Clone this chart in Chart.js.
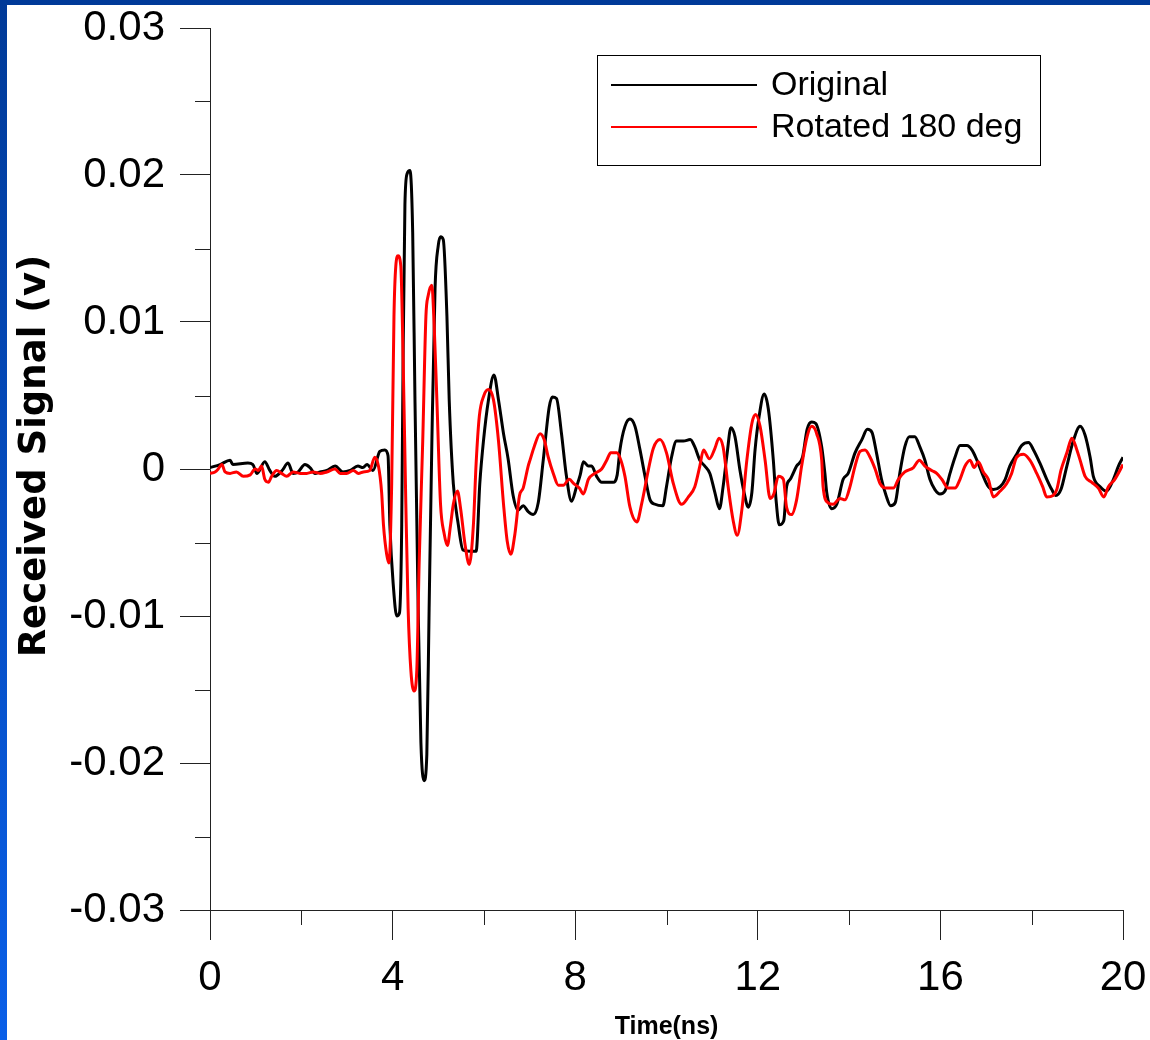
<!DOCTYPE html>
<html>
<head>
<meta charset="utf-8">
<script src="https://cdn.jsdelivr.net/npm/chart.js@4/dist/chart.umd.min.js"></script>
<style>
  html, body { margin: 0; padding: 0; }
  body { width: 1150px; height: 1040px; position: relative; overflow: hidden;
         background: linear-gradient(180deg, #003a98 0%, #0a5fe8 100%); }
  #wrap { position: absolute; left: 7px; top: 5px; width: 1143px; height: 1035px; background: #fff; }
</style>
</head>
<body>
<div id="wrap"><canvas id="signalChart" width="1143" height="1035"></canvas></div>
<script>
// time (ns) / received signal (V)
const timeOriginal = [0,0.22,0.44,0.50,0.83,0.94,1.03,1.20,1.31,1.42,
  1.58,1.71,1.82,1.93,2.08,2.19,2.30,2.41,2.56,2.74,
  2.91,3.07,3.24,3.35,3.44,3.57,3.72,3.83,3.90,3.94,
  4.02,4.09,4.15,4.20,4.23,4.27,4.32,4.38,4.44,4.49,
  4.56,4.62,4.69,4.75,4.80,4.86,4.93,5.00,5.05,5.11,
  5.19,5.24,5.33,5.44,5.54,5.70,5.83,5.91,5.99,6.10,
  6.22,6.32,6.43,6.53,6.64,6.75,6.86,6.97,7.08,7.19,
  7.30,7.43,7.50,7.59,7.70,7.80,7.92,8.03,8.11,8.18,
  8.29,8.36,8.47,8.58,8.73,8.83,8.92,8.98,9.09,9.20,
  9.31,9.42,9.53,9.64,9.75,9.92,10.00,10.11,10.22,10.37,
  10.52,10.62,10.73,10.84,10.95,11.06,11.16,11.24,11.33,11.41,
  11.50,11.61,11.70,11.79,11.87,11.94,12.03,12.14,12.23,12.34,
  12.40,12.47,12.57,12.63,12.71,12.85,12.98,13.08,13.18,13.27,
  13.40,13.47,13.51,13.62,13.73,13.87,13.98,14.13,14.28,14.40,
  14.50,14.60,14.71,14.81,14.91,15.01,15.11,15.22,15.32,15.44,
  15.55,15.66,15.77,15.88,15.99,16.10,16.21,16.32,16.43,16.58,
  16.69,16.80,16.94,17.05,17.16,17.31,17.42,17.52,17.67,17.78,
  17.93,18.04,18.18,18.33,18.44,18.53,18.64,18.77,18.91,19.06,
  19.17,19.28,19.35,19.50,19.64,19.79,19.90,20.00];
const original = [0.0001,0.0003,0.0006,0.0003,0.0004,0.0003,-0.0003,0.0005,-0.0001,-0.0005,
  -0.0001,0.0004,-0.0003,-0.0002,0.0003,0.0001,-0.0003,-0.0002,-0.0001,0.0002,
  -0.0002,-0.0001,0.0002,0.0001,0.0003,-0.0001,0.0012,0.0013,0.0009,-0.0038,
  -0.0081,-0.0100,-0.0098,-0.0038,0.0076,0.0180,0.0201,0.0203,0.0161,0.0047,
  -0.0095,-0.0186,-0.0212,-0.0194,-0.0095,0.0018,0.0123,0.0152,0.0158,0.0156,
  0.0104,0.0047,-0.0010,-0.0038,-0.0055,-0.0056,-0.0056,-0.0010,0.0019,0.0047,
  0.0064,0.0047,0.0024,0.0007,-0.0018,-0.0028,-0.0025,-0.0029,-0.0031,-0.0023,
  0.0006,0.0042,0.0049,0.0048,0.0024,-0.0003,-0.0022,-0.0012,-0.0004,0.0005,
  0.0002,0.0002,-0.0005,-0.0009,-0.0009,-0.0009,-0.0004,0.0013,0.0029,0.0034,
  0.0029,0.0013,-0.0005,-0.0021,-0.0024,-0.0025,-0.0012,0.0008,0.0019,0.0019,
  0.0020,0.0015,0.0006,0.0002,-0.0003,-0.0016,-0.0027,-0.0012,0.0011,0.0028,
  0.0022,-0.0001,-0.0016,-0.0026,-0.0016,0.0013,0.0036,0.0051,0.0041,0.0006,
  -0.0021,-0.0038,-0.0035,-0.0012,-0.0007,0.0002,0.0008,0.0027,0.0032,0.0031,
  0.0015,-0.0003,-0.0016,-0.0027,-0.0024,-0.0007,-0.0003,0.0011,0.0020,0.0027,
  0.0025,0.0011,-0.0007,-0.0018,-0.0025,-0.0023,-0.0003,0.0015,0.0022,0.0022,
  0.0015,0.0006,-0.0007,-0.0014,-0.0017,-0.0015,-0.0003,0.0008,0.0016,0.0016,
  0.0013,0.0006,-0.0005,-0.0012,-0.0014,-0.0012,-0.0007,0.0002,0.0010,0.0016,
  0.0018,0.0013,0.0004,-0.0007,-0.0014,-0.0018,-0.0014,0.0002,0.0019,0.0029,
  0.0023,0.0008,-0.0005,-0.0012,-0.0015,-0.0007,0.0002,0.0008];

const timeRotated = [0,0.11,0.18,0.26,0.33,0.44,0.58,0.73,0.88,0.99,
  1.06,1.13,1.20,1.28,1.35,1.46,1.57,1.68,1.82,1.97,
  2.12,2.26,2.41,2.56,2.74,2.85,2.99,3.14,3.25,3.36,
  3.50,3.61,3.69,3.76,3.80,3.87,3.92,3.98,4.03,4.07,
  4.12,4.18,4.23,4.29,4.34,4.40,4.47,4.53,4.58,4.66,
  4.73,4.78,4.86,4.91,4.97,5.05,5.13,5.20,5.27,5.33,
  5.42,5.49,5.59,5.68,5.77,5.83,5.90,6.00,6.10,6.21,
  6.32,6.43,6.51,6.59,6.68,6.78,6.86,6.97,7.01,7.10,
  7.23,7.32,7.41,7.52,7.63,7.74,7.87,7.97,8.09,8.18,
  8.29,8.43,8.58,8.69,8.78,8.91,9.00,9.09,9.20,9.35,
  9.46,9.60,9.71,9.86,10.00,10.15,10.33,10.48,10.62,10.73,
  10.81,10.94,11.06,11.15,11.24,11.35,11.46,11.55,11.65,11.76,
  11.87,11.95,12.05,12.16,12.27,12.35,12.45,12.56,12.63,12.74,
  12.85,12.96,13.08,13.18,13.29,13.40,13.43,13.54,13.65,13.80,
  13.91,14.02,14.13,14.24,14.35,14.46,14.57,14.68,14.82,14.97,
  15.08,15.22,15.41,15.54,15.66,15.81,15.92,16.03,16.17,16.32,
  16.43,16.54,16.65,16.74,16.83,16.94,17.05,17.16,17.31,17.45,
  17.56,17.67,17.82,17.96,18.11,18.24,18.33,18.47,18.55,18.64,
  18.77,18.88,18.99,19.06,19.17,19.31,19.46,19.58,19.68,19.82,
  20.00];
const rotated = [-0.0003,-0.0002,0.0000,0.0003,-0.0002,-0.0003,-0.0002,-0.0005,-0.0004,0.0000,
  -0.0001,0.0002,-0.0007,-0.0009,-0.0005,-0.0001,-0.0003,-0.0005,-0.0002,-0.0003,
  -0.0003,-0.0002,-0.0003,-0.0002,0.0000,-0.0003,-0.0003,-0.0001,-0.0003,-0.0002,
  -0.0001,0.0008,0.0002,-0.0016,-0.0038,-0.0058,-0.0064,-0.0010,0.0104,0.0138,
  0.0145,0.0138,0.0076,-0.0024,-0.0095,-0.0137,-0.0151,-0.0137,-0.0066,0.0019,
  0.0104,0.0118,0.0125,0.0098,0.0047,-0.0024,-0.0044,-0.0052,-0.0038,-0.0024,
  -0.0015,-0.0027,-0.0052,-0.0065,-0.0038,0.0004,0.0036,0.0050,0.0054,0.0047,
  0.0019,-0.0024,-0.0049,-0.0058,-0.0044,-0.0018,-0.0013,0.0002,0.0006,0.0015,
  0.0024,0.0020,0.0008,-0.0003,-0.0011,-0.0011,-0.0007,-0.0010,-0.0013,-0.0017,
  -0.0007,-0.0003,0.0000,0.0006,0.0011,0.0011,0.0006,-0.0005,-0.0026,-0.0036,
  -0.0023,-0.0001,0.0014,0.0020,0.0011,-0.0010,-0.0024,-0.0019,-0.0012,0.0002,
  0.0013,0.0007,0.0014,0.0021,0.0015,-0.0012,-0.0035,-0.0045,-0.0028,0.0006,
  0.0031,0.0037,0.0029,0.0006,-0.0020,-0.0017,-0.0005,-0.0007,-0.0026,-0.0031,
  -0.0021,0.0002,0.0022,0.0029,0.0024,0.0006,-0.0012,-0.0023,-0.0024,-0.0020,
  -0.0021,-0.0012,0.0002,0.0012,0.0013,0.0008,0.0000,-0.0010,-0.0013,-0.0013,
  -0.0007,-0.0002,0.0001,0.0006,0.0002,-0.0001,-0.0003,-0.0007,-0.0013,-0.0013,
  -0.0007,0.0002,0.0006,0.0001,0.0005,-0.0002,-0.0007,-0.0019,-0.0015,-0.0010,
  -0.0003,0.0008,0.0010,0.0006,-0.0003,-0.0012,-0.0019,-0.0018,-0.0014,-0.0001,
  0.0011,0.0021,0.0013,0.0006,-0.0005,-0.0009,-0.0013,-0.0019,-0.0012,-0.0007,
  0.0003];

const xMajor = 4, xMinor = [2, 6, 10, 14, 18];
const yMajor = 0.01, yMinor = [-0.025, -0.015, -0.005, 0.005, 0.015, 0.025];

function pts(ts, vs) {
    return ts.map((t, i) => ({ x: t, y: vs[i] }));
}

// minor ticks (half length) on both axes
const minorTicks = {
    id: 'minorTicks',
    afterDraw(chart) {
        const ctx = chart.ctx, xs = chart.scales.x, ys = chart.scales.y;
        ctx.save();
        ctx.strokeStyle = '#222';
        ctx.lineWidth = 1;
        ctx.beginPath();
        xMinor.forEach(v => {
            const px = Math.round(xs.getPixelForValue(v)) + 0.5;
            ctx.moveTo(px, ys.bottom);
            ctx.lineTo(px, ys.bottom + 15);
        });
        yMinor.forEach(v => {
            const py = Math.round(ys.getPixelForValue(v)) + 0.5;
            ctx.moveTo(xs.left - 15, py);
            ctx.lineTo(xs.left, py);
        });
        ctx.stroke();
        ctx.restore();
    }
};

// boxed legend inside the plot, top right
const boxLegend = {
    id: 'boxLegend',
    afterDraw(chart) {
        const ctx = chart.ctx, a = chart.chartArea;
        const bx = a.right - 526, by = a.top + 27, bw = 443, bh = 110;
        ctx.save();
        ctx.strokeStyle = '#000';
        ctx.lineWidth = 1;
        ctx.strokeRect(bx + 0.5, by + 0.5, bw, bh);
        ctx.font = '34px "Liberation Sans", Arial, sans-serif';
        ctx.textBaseline = 'middle';
        ctx.fillStyle = '#000';
        chart.data.datasets.forEach((ds, i) => {
            const y = by + 30 + i * 42;
            ctx.strokeStyle = ds.borderColor;
            ctx.lineWidth = 2;
            ctx.beginPath();
            ctx.moveTo(bx + 14, y);
            ctx.lineTo(bx + 160, y);
            ctx.stroke();
            ctx.fillText(ds.label, bx + 174, y + 1);
        });
        ctx.restore();
    }
};

const ctx = document.getElementById('signalChart').getContext('2d');
new Chart(ctx, {
    type: 'line',
    data: {
        datasets: [{
            label: 'Original',
            data: pts(timeOriginal, original),
            borderColor: '#000000',
            borderWidth: 3,
            pointRadius: 0,
            cubicInterpolationMode: 'monotone',
            order: 1
        }, {
            label: 'Rotated 180 deg',
            data: pts(timeRotated, rotated),
            borderColor: '#ff0000',
            borderWidth: 3,
            pointRadius: 0,
            cubicInterpolationMode: 'monotone',
            order: 0
        }]
    },
    options: {
        responsive: false,
        animation: false,
        events: [],
        layout: { padding: { top: 23, right: 27, left: 0, bottom: 0 } },
        plugins: { legend: { display: false }, tooltip: { enabled: false } },
        scales: {
            x: {
                type: 'linear',
                min: 0, max: 20,
                border: { display: true, color: '#222', width: 1 },
                grid: { drawOnChartArea: false, drawTicks: true, tickLength: 30, color: '#222' },
                ticks: {
                    stepSize: xMajor, padding: 3, color: '#000',
                    font: { family: '"Liberation Sans", Arial, sans-serif', size: 42, lineHeight: 1.667 }
                },
                title: {
                    display: true, text: 'Time(ns)', color: '#000',
                    font: { family: '"Liberation Sans", Arial, sans-serif', size: 25, weight: 'bold', lineHeight: 1 },
                    padding: { top: 0, bottom: 0 }
                },
                afterFit(scale) { scale.height = 130; }
            },
            y: {
                min: -0.03, max: 0.03,
                border: { display: true, color: '#222', width: 1 },
                grid: { drawOnChartArea: false, drawTicks: true, tickLength: 30, color: '#222' },
                ticks: {
                    stepSize: yMajor, padding: 15, color: '#000',
                    font: { family: '"Liberation Sans", Arial, sans-serif', size: 42, lineHeight: 0.3 },
                    callback: v => Math.abs(v) < 1e-9 ? '0' : v.toFixed(2)
                },
                title: {
                    display: true, text: '  Received Signal (v)', color: '#000',
                    font: { family: '"DejaVu Sans", sans-serif', size: 37, weight: 'bold' },
                    padding: { top: 6, bottom: 0 }
                },
                afterFit(scale) { scale.width = 203; }
            }
        }
    },
    plugins: [minorTicks, boxLegend]
});
</script>
</body>
</html>
